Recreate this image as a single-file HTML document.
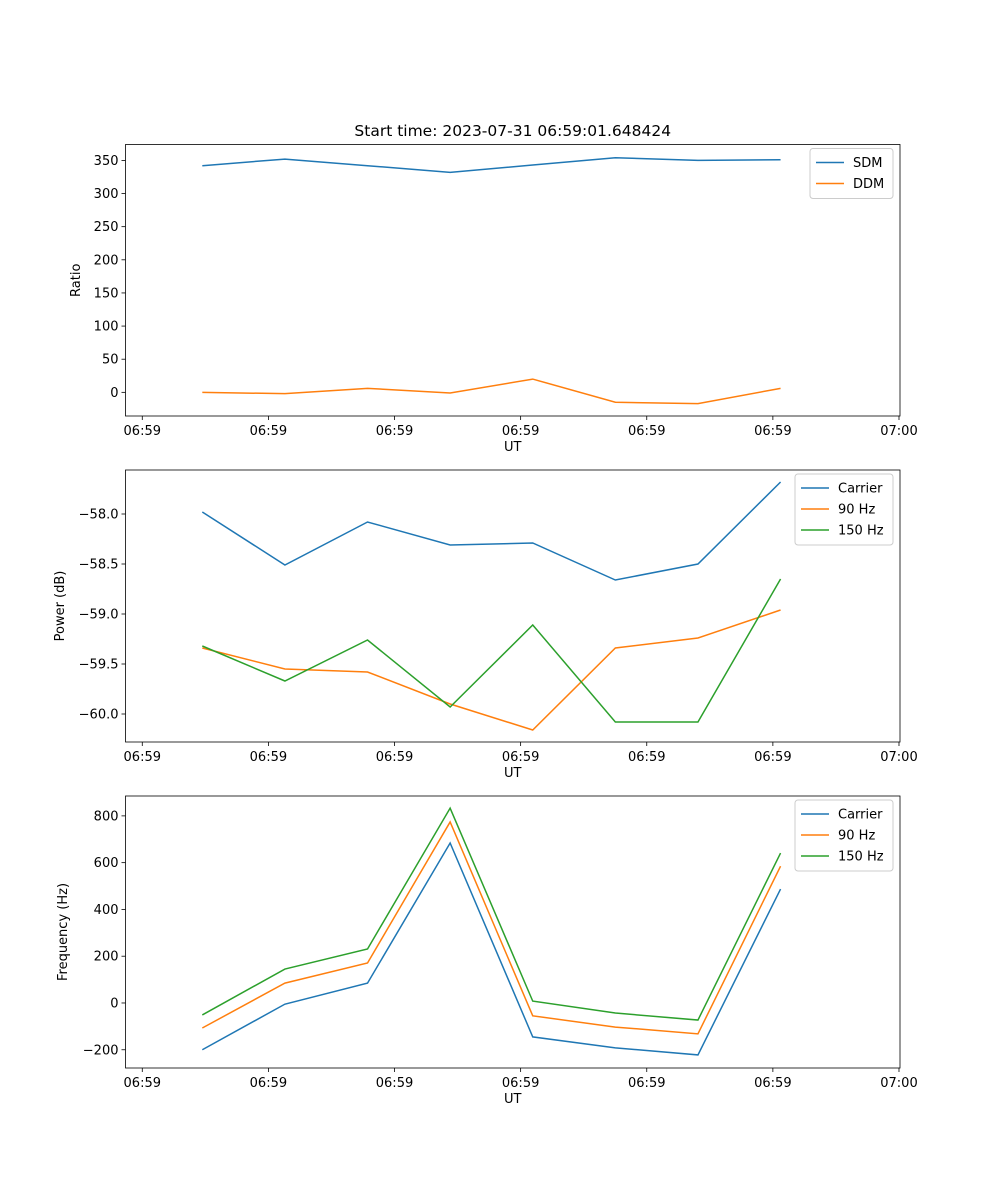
<!DOCTYPE html>
<html><head><meta charset="utf-8"><style>
body{margin:0;background:#fff}
svg{display:block;font-family:"DejaVu Sans","Liberation Sans",sans-serif}
</style></head><body>
<svg id="fig" width="1000" height="1200" viewBox="0 0 1000 1200"></svg>
<script>
const times=[4.76,11.31,17.86,24.41,30.96,37.51,44.06,50.61];
const xTickVals=[0,10,20,30,40,50,60];
const xTickLabels=["06:59","06:59","06:59","06:59","06:59","06:59","07:00"];
const sdm=[342,352,342,332,343,354,350,351];
const ddm=[0,-2,6,-1,20,-15,-17,6];
const pCarrier=[-57.98,-58.51,-58.08,-58.31,-58.29,-58.66,-58.50,-57.68];
const p90=[-59.34,-59.55,-59.58,-59.90,-60.16,-59.34,-59.24,-58.96];
const p150=[-59.32,-59.67,-59.26,-59.93,-59.11,-60.08,-60.08,-58.65];
const fCarrier=[-200,-5,85,684,-145,-192,-222,487];
const f90=[-107,85,171,774,-55,-103,-132,585];
const f150=[-51,145,231,833,8,-43,-73,641];
const ratioTicks=[0,50,100,150,200,250,300,350];
const powerTicks=[-60.0,-59.5,-59.0,-58.5,-58.0];
const freqTicks=[-200,0,200,400,600,800];

const NS="http://www.w3.org/2000/svg";
const svg=document.getElementById('fig');
function el(tag,attrs,parent){const e=document.createElementNS(NS,tag);for(const k in attrs)e.setAttribute(k,attrs[k]);(parent||svg).appendChild(e);return e;}
const C={blue:"#1f77b4",orange:"#ff7f0e",green:"#2ca02c"};
const L=125.5,R=900,xmin=-1.33,xmax=60.08;
const sx=v=>L+(v-xmin)/(xmax-xmin)*(R-L);

function panel(name,top,bot,ymin,ymax,yt,fmt,ylabel,series,legend){
  const g=el('g',{});
  
  
  const sy=v=>bot-(v-ymin)/(ymax-ymin)*(bot-top);
  xTickVals.forEach((v,i)=>{
    const x=sx(v);
    el('line',{x1:x,x2:x,y1:bot,y2:bot+4,stroke:"#000","stroke-width":0.8},g);
    const t=el('text',{x:x,y:bot+19,"font-size":13,"text-anchor":"middle"},g);
    
    
    t.textContent=xTickLabels[i];
  });
  const xl=el('text',{x:(L+R)/2,y:bot+35,"font-size":13,"text-anchor":"middle"},g);
  
  
  xl.textContent="UT";
  yt.forEach(v=>{
    const y=sy(v);
    el('line',{x1:L-4,x2:L,y1:y,y2:y,stroke:"#000","stroke-width":0.8},g);
    const t=el('text',{x:L-7,y:y+4.5,"font-size":13,"text-anchor":"end"},g);
    
    
    t.textContent=fmt(v);
  });
  series.forEach(s=>{
    const p=el('polyline',{points:times.map((t,i)=>sx(t)+","+sy(s.d[i])).join(" "),fill:"none",stroke:s.c,"stroke-width":1.5},g);
    
    
  });
  el('rect',{x:L,y:top,width:R-L,height:bot-top,fill:"none",stroke:"#000","stroke-width":0.8},g);
  const cy=(top+bot)/2;
  const yl=el('text',{x:0,y:0,"font-size":13,"text-anchor":"middle",transform:`translate(${legend.yx},${cy}) rotate(-90)`},g);
  
  
  yl.textContent=ylabel;
  const lg=el('g',{},g);
  
  
  el('rect',{x:legend.x,y:top+4,width:R-7-legend.x,height:series.length*21+8,fill:"#fff",stroke:"#ccc",rx:3},lg);
  series.forEach((s,i)=>{
    const y=top+18+i*21;
    el('line',{x1:legend.x+6,x2:legend.x+34,y1:y,y2:y,stroke:s.c,"stroke-width":1.5},lg);
    const t=el('text',{x:legend.x+43,y:y+4.5,"font-size":13},lg);
    
    
    t.textContent=s.label;
  });
}
const title=el('text',{x:(L+R)/2,y:136,"font-size":15.5,"text-anchor":"middle"});


title.textContent="Start time: 2023-07-31 06:59:01.648424";

panel('ratio-panel',144.5,416,-35.7,374,ratioTicks,v=>String(v),"Ratio",
 [{n:'sdm-line',d:sdm,c:C.blue,label:'SDM'},{n:'ddm-line',d:ddm,c:C.orange,label:'DDM'}],{x:810,yx:80});
panel('power-panel',470,742,-60.28,-57.56,powerTicks,v=>v.toFixed(1).replace('-','\u2212'),"Power (dB)",
 [{n:'power-carrier-line',d:pCarrier,c:C.blue,label:'Carrier'},{n:'power-90hz-line',d:p90,c:C.orange,label:'90 Hz'},{n:'power-150hz-line',d:p150,c:C.green,label:'150 Hz'}],{x:795,yx:64});
panel('frequency-panel',796,1068,-278,885,freqTicks,v=>String(v).replace('-','\u2212'),"Frequency (Hz)",
 [{n:'freq-carrier-line',d:fCarrier,c:C.blue,label:'Carrier'},{n:'freq-90hz-line',d:f90,c:C.orange,label:'90 Hz'},{n:'freq-150hz-line',d:f150,c:C.green,label:'150 Hz'}],{x:795,yx:67});
</script>
</body></html>
